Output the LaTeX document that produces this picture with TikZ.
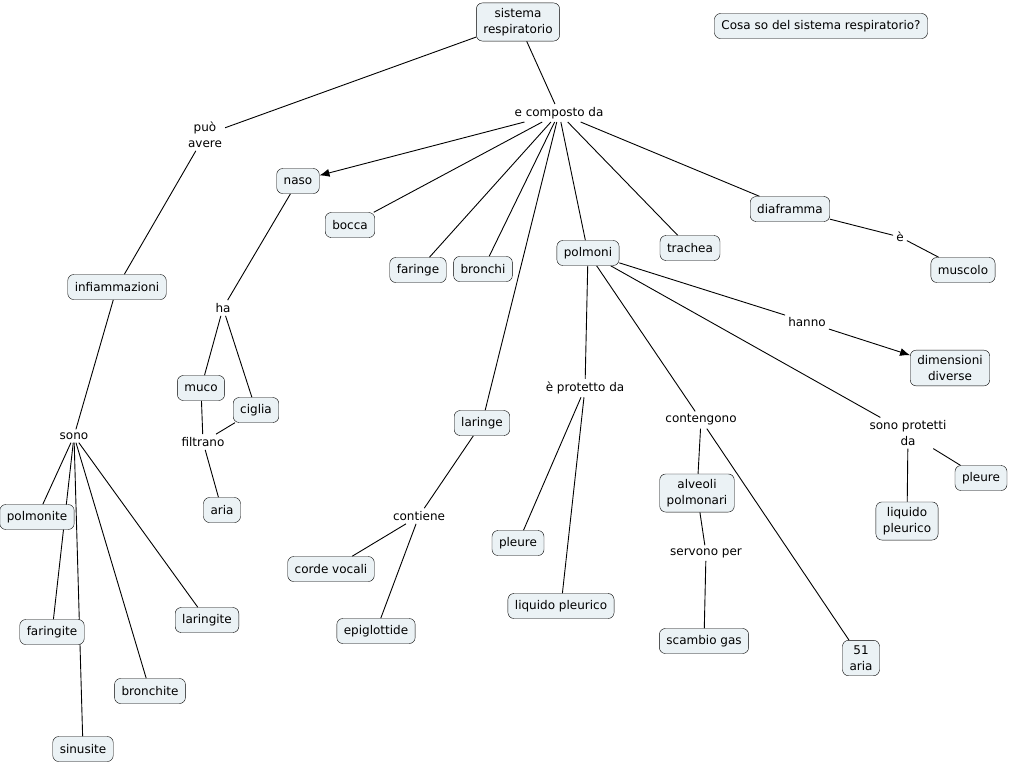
\documentclass[tikz,border=0pt]{standalone}
\usepackage{fontspec}
\setmainfont{DejaVu Sans}
\usetikzlibrary{shapes,arrows.meta,backgrounds}
\definecolor{cfill}{RGB}{235,242,245}
\tikzstyle{cpt}=[draw=black,fill=cfill,rounded corners=6pt,inner xsep=7pt,inner ysep=5.5pt,minimum height=25pt,align=center,font=\fontsize{12}{15.5}\selectfont]
\tikzstyle{lnk}=[inner sep=3pt,align=center,font=\fontsize{12}{15.5}\selectfont]
\tikzstyle{ln}=[draw=black,line width=0.9pt]
\tikzstyle{arr}=[ln,-{Latex[length=10pt,width=8pt]}]

\begin{document}
\begin{tikzpicture}[x=1pt,y=-1pt]
\useasboundingbox (0,0) rectangle (1011,764);
% concepts
\node[cpt] (sist) at (518,22) {sistema\\respiratorio};
\node[cpt] (cosa) at (821,26) {Cosa so del sistema respiratorio?};
\node[cpt] (naso) at (298,181) {naso};
\node[cpt] (bocca) at (350,225) {bocca};
\node[cpt] (faringe) at (418,270) {faringe};
\node[cpt] (bronchi) at (483,269) {bronchi};
\node[cpt] (polmoni) at (588,253) {polmoni};
\node[cpt] (trachea) at (690,248) {trachea};
\node[cpt] (diaf) at (790,209) {diaframma};
\node[cpt] (muscolo) at (963,270) {muscolo};
\node[cpt] (infiam) at (117,287) {infiammazioni};
\node[cpt] (muco) at (201,388) {muco};
\node[cpt] (ciglia) at (256,410) {ciglia};
\node[cpt] (aria) at (222,510) {aria};
\node[cpt] (laringe) at (482,423) {laringe};
\node[cpt] (pleureA) at (518,543) {pleure};
\node[cpt] (liqA) at (561,606) {liquido pleurico};
\node[cpt] (alveoli) at (697,493) {alveoli\\polmonari};
\node[cpt] (scambio) at (704,641) {scambio gas};
\node[cpt] (cinq) at (861,658) {51\\aria};
\node[cpt] (dimens) at (950,368) {dimensioni\\diverse};
\node[cpt] (pleureB) at (981,478) {pleure};
\node[cpt] (liqB) at (907,521) {liquido\\pleurico};
\node[cpt] (corde) at (331,569) {corde vocali};
\node[cpt] (epigl) at (376,631) {epiglottide};
\node[cpt] (polmonite) at (37,517) {polmonite};
\node[cpt] (faringite) at (52,632) {faringite};
\node[cpt] (sinusite) at (83,749) {sinusite};
\node[cpt] (bronchite) at (150,691) {bronchite};
\node[cpt] (laringite) at (207,620) {laringite};
% linking phrases
\node[lnk] (comp) at (559,113) {e composto da};
\node[lnk] (puo) at (205,135) {può\\avere};
\node[lnk] (ha) at (223,308) {ha};
\node[lnk] (filtr) at (203,442) {filtrano};
\node[lnk] (sono) at (74,436) {sono};
\node[lnk] (cont) at (419,516) {contiene};
\node[lnk] (protA) at (585,388) {è protetto da};
\node[lnk] (conteng) at (701,420) {contengono};
\node[lnk] (serv) at (706,553) {servono per};
\node[lnk] (hanno) at (807,322) {hanno};
\node[lnk] (protB) at (908,433) {sono protetti\\da};
\node[lnk] (e) at (900,237) {è};
% connectors
\begin{scope}[on background layer]
\draw[ln] (sist) -- (comp);
\draw[ln] (sist) -- (puo);
\draw[ln] (puo) -- (infiam);
\draw[arr] (comp) -- (naso);
\foreach \t in {bocca,faringe,bronchi,polmoni,trachea,diaf,laringe}
  \draw[ln] (comp) -- (\t);
\draw[ln] (naso) -- (ha);
\draw[ln] (ha) -- (muco);
\draw[ln] (ha) -- (ciglia);
\draw[ln] (muco) -- (filtr);
\draw[ln] (ciglia) -- (filtr);
\draw[ln] (filtr) -- (aria);
\draw[ln] (infiam) -- (sono);
\foreach \t in {polmonite,faringite,sinusite,bronchite,laringite}
  \draw[ln] (sono) -- (\t);
\draw[ln] (laringe) -- (cont);
\draw[ln] (cont) -- (corde);
\draw[ln] (cont) -- (epigl);
\draw[ln] (polmoni) -- (protA);
\draw[ln] (protA) -- (pleureA);
\draw[ln] (protA) -- (liqA);
\draw[ln] (polmoni) -- (conteng);
\draw[ln] (conteng) -- (alveoli);
\draw[ln] (conteng) -- (cinq);
\draw[ln] (alveoli) -- (serv);
\draw[ln] (serv) -- (scambio);
\draw[ln] (polmoni) -- (hanno);
\draw[arr] (hanno) -- (dimens);
\draw[ln] (polmoni) -- (protB);
\draw[ln] (protB) -- (pleureB);
\draw[ln] (protB) -- (liqB);
\draw[ln] (diaf) -- (e);
\draw[ln] (e) -- (muscolo);
\end{scope}
\end{tikzpicture}
\end{document}
